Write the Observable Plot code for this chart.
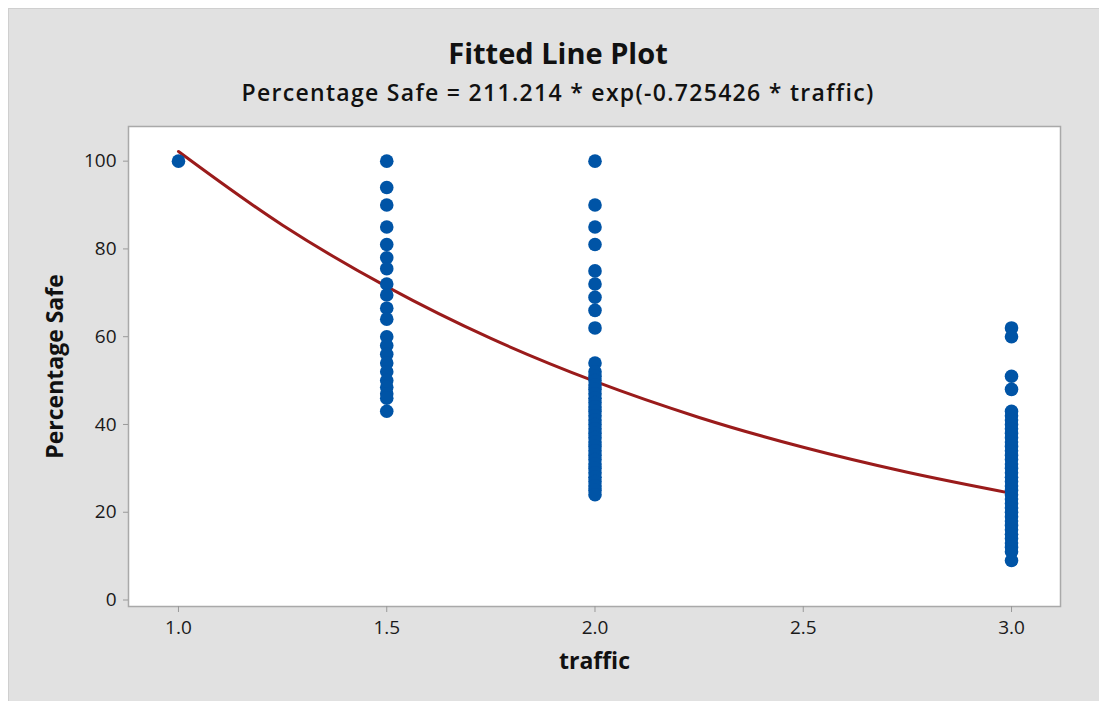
<!DOCTYPE html>
<html>
<head>
<meta charset="utf-8">
<script src="https://cdn.jsdelivr.net/npm/d3@7"></script>
<script src="https://cdn.jsdelivr.net/npm/@observablehq/plot@0.6"></script>
<style>
  html, body { margin: 0; padding: 0; background: #ffffff; }
  body { width: 1099px; height: 701px; position: relative; overflow: hidden; font-family: "Open Sans", "Noto Sans", sans-serif; }
  #panel { position: absolute; left: 8px; top: 8px; width: 1100px; height: 700px; background: #e1e1e1; border-left: 1px solid #cfcfcf; border-top: 1px solid #cfcfcf; }
  #title { position: absolute; left: 8px; width: 1100px; top: 33px; text-align: center; font-size: 29px; font-weight: bold; color: #111; }
  #subtitle { position: absolute; left: 8px; width: 1100px; top: 76px; text-align: center; font-size: 23px; font-weight: 600; color: #111; letter-spacing: 1.3px; }
  #chart { position: absolute; left: 0; top: 0; }
</style>
</head>
<body>
<div id="panel"></div>
<div id="title">Fitted Line Plot</div>
<div id="subtitle">Percentage Safe = 211.214 * exp(-0.725426 * traffic)</div>
<div id="chart"></div>
<script>
const traffic10 = [100];
const traffic15 = [100, 94, 90, 85, 81, 78, 75.5, 72, 69.5, 66.5, 64, 60, 58, 56, 54, 52, 50, 48.5, 47, 46, 43];
const traffic20 = [100, 90, 85, 81, 75, 72, 69, 66, 62, 54, 52, 51, 50, 49, 48, 47, 46, 45, 44, 43, 42, 41, 40, 39, 38, 37, 36, 35, 34, 33, 32, 31, 30, 29, 28, 27, 26, 25, 24];
const traffic30 = [62, 60, 51, 48, 43, 42, 41, 40, 39, 38, 37, 36, 35, 34, 33, 32, 31, 30, 29, 28, 27, 26, 25, 24, 23, 22, 21, 20, 19, 18, 17, 16, 15, 14, 13, 12, 11, 9];

// Fitted line
const fitTraffic = [1.0, 1.25, 1.5, 1.75, 2.0, 2.25, 2.5, 2.75, 3.0];
const fitSafe = [102.2, 85.4, 71.4, 59.6, 49.8, 41.6, 34.8, 29.1, 24.3];

const xTicks = [1.0, 1.5, 2.0, 2.5, 3.0];
const yTicks = [0, 20, 40, 60, 80, 100];

const points = [
  ...traffic10.map(v => ({traffic: 1.0, safe: v})),
  ...traffic15.map(v => ({traffic: 1.5, safe: v})),
  ...traffic20.map(v => ({traffic: 2.0, safe: v})),
  ...traffic30.map(v => ({traffic: 3.0, safe: v}))
];
const fit = fitTraffic.map((t, i) => ({traffic: t, safe: fitSafe[i]}));

const plot = Plot.plot({
  width: 1099,
  height: 701,
  marginLeft: 128,
  marginRight: 39,
  marginTop: 126,
  marginBottom: 95,
  style: { background: "transparent", fontFamily: "'Open Sans', 'Noto Sans', sans-serif", fontSize: "19px", color: "#222" },
  x: { domain: [0.88, 3.1176] },
  y: { domain: [-1.48, 107.9] },
  marks: [
    Plot.frame({ fill: "white", stroke: "#a9a9a9", strokeWidth: 1.5 }),
    Plot.axisX({ ticks: xTicks, tickFormat: d => d.toFixed(1), tickSize: 6, tickPadding: 8, stroke: "#999", fill: "#1a1a1a", label: null, fontSize: 19 }),
    Plot.axisY({ ticks: yTicks, tickSize: 5, tickPadding: 7, stroke: "#999", fill: "#1a1a1a", label: null, fontSize: 19 }),
    Plot.line(fit, { x: "traffic", y: "safe", stroke: "#9a1b1b", strokeWidth: 3, curve: "catmull-rom" }),
    Plot.dot(points, { x: "traffic", y: "safe", r: 6.8, fill: "#0054a6", stroke: "none" }),
    Plot.text(["traffic"], { frameAnchor: "bottom", dy: 62, text: d => d, fontSize: 23, fontWeight: "bold", fill: "#111" }),
    Plot.text(["Percentage Safe"], { frameAnchor: "left", dx: -73, rotate: -90, textAnchor: "middle", text: d => d, fontSize: 23, fontWeight: "bold", fill: "#111" })
  ]
});
document.getElementById("chart").appendChild(plot);
</script>
</body>
</html>
